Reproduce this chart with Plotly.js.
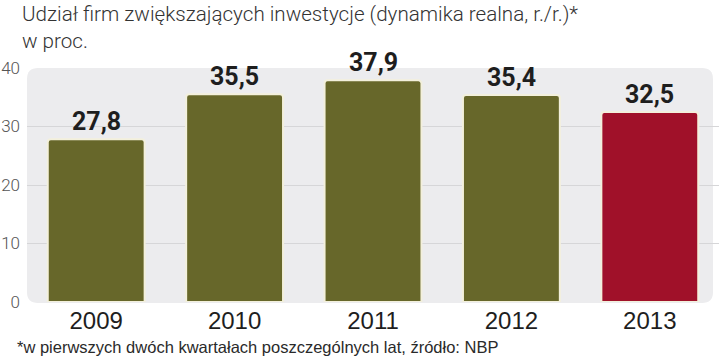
<!DOCTYPE html>
<html>
<head>
<meta charset="utf-8">
<script src="https://cdn.plot.ly/plotly-3.0.1.min.js"></script>
<style>html,body{margin:0;padding:0;background:#fff;}#chart{width:720px;height:359px;}</style>
</head>
<body>
<div id="chart"></div>
<script>
const years = ['2009', '2010', '2011', '2012', '2013'];
const shares = [27.8, 35.5, 37.9, 35.4, 32.5];
const labels = ['27,8', '35,5', '37,9', '35,4', '32,5'];
const barColors = ['#67672a', '#67672a', '#67672a', '#67672a', '#a01129'];
const yTicks = [0, 10, 20, 30, 40];
const titleText = 'Udział firm zwiększających inwestycje (dynamika realna, r./r.)*<br>w proc.';
const noteText = '*w pierwszych dwóch kwartałach poszczególnych lat, źródło: NBP';

const W = 720, H = 359;
const mL = 27, mR = 1, mT = 68, mB = 57;
const pw = W - mL - mR, ph = H - mT - mB;

// rounded background panel in paper coords
const x0 = 0, x1 = (713 - mL) / pw, y0 = -1 / ph, y1 = 1;
const rx = 11 / pw, ry = 11 / ph;
const bgPath = `M ${x0 + rx} ${y0} L ${x1 - rx} ${y0} Q ${x1} ${y0} ${x1} ${y0 + ry} L ${x1} ${y1 - ry} Q ${x1} ${y1} ${x1 - rx} ${y1} L ${x0 + rx} ${y1} Q ${x0} ${y1} ${x0} ${y1 - ry} L ${x0} ${y0 + ry} Q ${x0} ${y0} ${x0 + rx} ${y0} Z`;

const trace = {
  type: 'bar',
  x: years,
  y: shares,
  marker: { color: barColors, line: { color: '#f3f0dc', width: 2 }, cornerradius: 3 },
  width: 0.7,
  hoverinfo: 'none'
};

const annotations = years.map((yr, i) => ({
  x: i, y: shares[i], xref: 'x', yref: 'y',
  text: labels[i], showarrow: false, yanchor: 'bottom', yshift: 1,
  font: { family: 'Roboto, Liberation Sans, sans-serif', size: 25, color: '#1e1e1e', weight: 'bold' }
}));
annotations.push({
  xref: 'paper', yref: 'paper', x: (15 - mL) / pw, y: (mT + ph - 336) / ph,
  xanchor: 'left', yanchor: 'top', showarrow: false, text: noteText,
  font: { family: 'Liberation Sans, Arial, sans-serif', size: 16.5, color: '#2a2a2a' }
});
annotations.push({
  xref: 'paper', yref: 'paper', x: (20 - mL) / pw, y: 1 + (mT - 0) / ph,
  xanchor: 'left', yanchor: 'top', align: 'left', showarrow: false, text: titleText,
  font: { family: 'Roboto, Liberation Sans, sans-serif', size: 20.6, color: '#333333', weight: 300 }
});

const layout = {
  width: W, height: H,
  margin: { l: mL, r: mR, t: mT, b: mB, pad: 0 },
  paper_bgcolor: '#ffffff',
  plot_bgcolor: 'rgba(0,0,0,0)',
  showlegend: false,
  xaxis: {
    type: 'category', range: [-0.5, 4.5], fixedrange: true,
    showgrid: false, zeroline: false, showline: false, ticks: '',
    tickfont: { family: 'Liberation Sans, Arial, sans-serif', size: 24, color: '#1e1e1e' },
    ticklabelstandoff: 2
  },
  yaxis: {
    range: [0, 40], tickvals: yTicks, ticktext: yTicks.map(String), fixedrange: true,
    showgrid: true, gridcolor: '#d6d6d8', gridwidth: 1, zeroline: false, showline: false, ticks: '',
    tickfont: { family: 'Roboto, Liberation Sans, sans-serif', size: 17, color: '#555555', weight: 300 },
    ticklabelstandoff: 6
  },
  shapes: [{
    type: 'path', xref: 'paper', yref: 'paper', path: bgPath,
    fillcolor: '#ececee', line: { width: 0 }, layer: 'below'
  }],
  annotations: annotations
};

Plotly.newPlot('chart', [trace], layout, { displayModeBar: false, staticPlot: true });
</script>
</body>
</html>
